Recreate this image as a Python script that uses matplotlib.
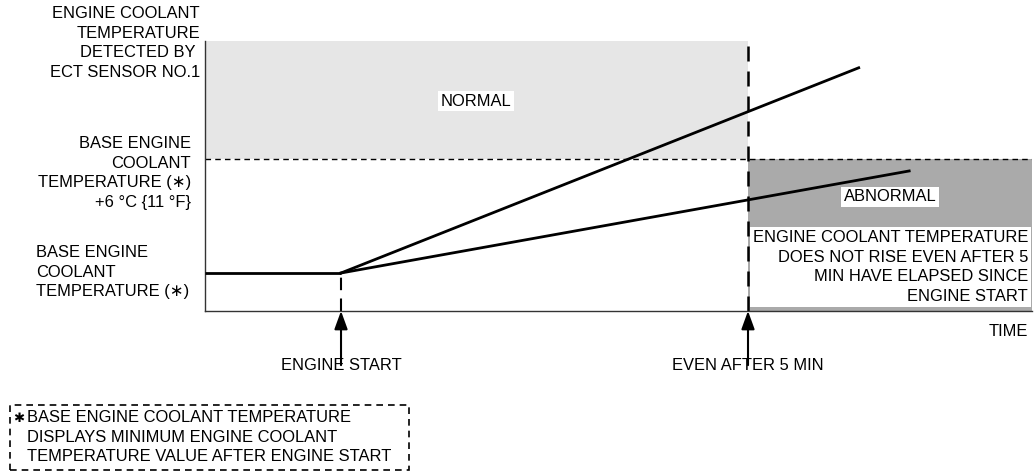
import matplotlib.pyplot as plt
from matplotlib.patches import Rectangle

plt.rcParams['font.family'] = ['Liberation Sans', 'DejaVu Sans']

W, H = 1036, 474
fig = plt.figure(figsize=(W / 100, H / 100), dpi=100)

# plot box in pixels: left 205, right 1032, top 41, bottom 311
ax = fig.add_axes([205 / W, (H - 311) / H, (1032 - 205) / W, (311 - 41) / H])

# schematic data: time in minutes after engine start, temperature rise in degC
t_start = 0.0
t_check = 5.0
base_temp = 0.0
threshold = 6.0          # base + 6 degC {11 degF}
flat_t = [-1.67, 0.0]
flat_temp = [0.0, 0.0]
normal_t = [0.0, 6.36]
normal_temp = [0.0, 10.8]
abnormal_t = [0.0, 6.98]
abnormal_temp = [0.0, 5.37]

xmin, xmax = -1.671, 8.489
ymin, ymax = -2.0, 12.21
ax.set_xlim(xmin, xmax)
ax.set_ylim(ymin, ymax)

# shaded regions
ax.add_patch(Rectangle((xmin, threshold), t_check - xmin, ymax - threshold,
                       facecolor='#e6e6e6', edgecolor='none', zorder=0))
ax.add_patch(Rectangle((t_check, ymin), xmax - t_check, threshold - ymin,
                       facecolor='#aaaaaa', edgecolor='none', zorder=0))

# threshold line and time markers
ax.axhline(threshold, color='black', lw=1, ls=(0, (4, 3)), zorder=2)
ax.plot([t_check, t_check], [ymin, ymax], color='black', lw=1.8,
        ls=(0, (6, 4)), zorder=2)
ax.plot([t_start, t_start], [ymin, base_temp], color='black', lw=1.5,
        ls=(0, (6, 4)), zorder=2)

# temperature curves
ax.plot(flat_t, flat_temp, color='black', lw=2, solid_capstyle='butt', zorder=3)
ax.plot(normal_t, normal_temp, color='black', lw=2, zorder=3)
ax.plot(abnormal_t, abnormal_temp, color='black', lw=2, zorder=3)

for s in ['top', 'right']:
    ax.spines[s].set_visible(False)
for s in ['left', 'bottom']:
    ax.spines[s].set_color('#333333')
    ax.spines[s].set_linewidth(1)
ax.set_xticks([])
ax.set_yticks([])

fs = 11.9

# arrows below the time axis
for t in [t_start, t_check]:
    ax.annotate('', xy=(t, ymin), xytext=(t, -4.85), annotation_clip=False,
                arrowprops=dict(arrowstyle='-|>,head_length=1.1,head_width=0.4',
                                color='black', lw=1.5, shrinkA=0, shrinkB=0))


def px_text(x, y, s, **kw):
    kw.setdefault('fontsize', fs)
    fig.text(x / W, 1 - y / H, s, linespacing=1.38, **kw)


px_text(200, 6, 'ENGINE COOLANT\nTEMPERATURE\nDETECTED BY \nECT SENSOR NO.1',
        ha='right', va='top', multialignment='right')
px_text(191, 136, 'BASE ENGINE\nCOOLANT\nTEMPERATURE (\u2217)\n+6 \u00b0C {11 \u00b0F}',
        ha='right', va='top', multialignment='right')
px_text(36, 245, 'BASE ENGINE\nCOOLANT\nTEMPERATURE (\u2217)',
        ha='left', va='top', multialignment='left')

px_text(476, 101, 'NORMAL', ha='center', va='center',
        bbox=dict(facecolor='white', edgecolor='none', pad=2))
px_text(890, 197, 'ABNORMAL', ha='center', va='center',
        bbox=dict(facecolor='white', edgecolor='none', pad=2))
px_text(1028, 267, 'ENGINE COOLANT TEMPERATURE\nDOES NOT RISE EVEN AFTER 5\nMIN HAVE ELAPSED SINCE\nENGINE START',
        ha='right', va='center', multialignment='right',
        bbox=dict(facecolor='white', edgecolor='none', pad=2))

px_text(1028, 331, 'TIME', ha='right', va='center')
px_text(341, 366, 'ENGINE START', ha='center', va='center')
px_text(748, 366, 'EVEN AFTER 5 MIN', ha='center', va='center')

# footnote box
fig.patches.append(Rectangle((10 / W, 1 - 470 / H), 399 / W, 65 / H,
                             transform=fig.transFigure, fill=False,
                             edgecolor='black', lw=1.2, ls=(0, (4, 3))))
px_text(13, 419, '\u2731', ha='left', va='center', family=['DejaVu Sans'],
        fontsize=9.5)
px_text(27, 437, 'BASE ENGINE COOLANT TEMPERATURE\nDISPLAYS MINIMUM ENGINE COOLANT\nTEMPERATURE VALUE AFTER ENGINE START',
        ha='left', va='center', multialignment='left')

fig.savefig('out.png', dpi=100)
